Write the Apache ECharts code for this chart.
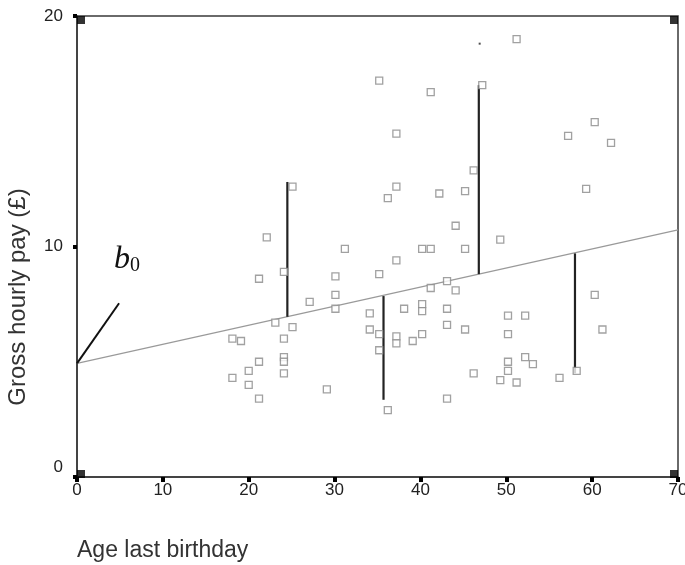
<!DOCTYPE html>
<html><head><meta charset="utf-8">
<script src="https://cdn.jsdelivr.net/npm/echarts@6/dist/echarts.min.js"></script>
<style>html,body{margin:0;padding:0;background:#fff}#c{width:685px;height:565px}</style>
</head><body><div id="c"></div>
<script>
// Observed points: age last birthday vs gross hourly pay
const ages = [51.2,35.2,41.2,47.2,37.2,57.2,60.3,62.2,25.1,37.2,36.2,42.2,45.2,46.2,59.3,44.1,22.1,31.2,40.2,41.2,45.2,49.3,24.1,21.2,30.1,37.2,35.2,43.1,41.2,44.1,60.3,50.2,52.2,27.1,30.1,30.1,23.1,25.1,34.1,38.1,40.2,40.2,43.1,43.1,45.2,61.2,50.2,18.1,19.1,24.1,34.1,35.2,37.2,40.2,39.1,37.2,35.2,24.1,24.1,21.2,52.2,53.1,50.2,20.0,24.1,18.1,20.0,21.2,29.1,46.2,50.2,49.3,51.2,56.2,58.2,43.1,36.2];
const pay  = [19.0,17.2,16.7,17.0,14.9,14.8,15.4,14.5,12.6,12.6,12.1,12.3,12.4,13.3,12.5,10.9,10.4,9.9,9.9,9.9,9.9,10.3,8.9,8.6,8.7,9.4,8.8,8.5,8.2,8.1,7.9,7.0,7.0,7.6,7.9,7.3,6.7,6.5,7.1,7.3,7.5,7.2,7.3,6.6,6.4,6.4,6.2,6.0,5.9,6.0,6.4,6.2,6.1,6.2,5.9,5.8,5.5,5.2,5.0,5.0,5.2,4.9,5.0,4.6,4.5,4.3,4.0,3.4,3.8,4.5,4.6,4.2,4.1,4.3,4.6,3.4,2.9];
// Fitted regression line end points
const regX = [0, 70];
const regY = [4.93, 10.72];
// Residual segments
const residX    = [24.5, 35.7, 46.8, 58.0];
const residFrom = [6.95, 7.85, 8.8, 9.7];
const residTo   = [12.8, 3.35, 17.0, 4.5];
// b0 pointer line
const ptrX = [0, 4.9];
const ptrY = [4.93, 7.54];
// stray dot
const dotX = [46.9];
const dotY = [18.8];
// axes
const xTicks = [0,10,20,30,40,50,60,70];
const yTicks = [0,10,20];

const chart = echarts.init(document.getElementById('c'), null, {renderer:'canvas'});
const tickFont = "'Liberation Sans Narrow','Liberation Sans',Arial,sans-serif";

chart.setOption({
  animation:false,
  backgroundColor:'#fff',
  grid:{left:77, right:7, top:16, bottom:88, outerBoundsMode:'none', containLabel:false,
    show:true, borderColor:'#3a3a3a', borderWidth:1.5, backgroundColor:'transparent'},
  xAxis:{type:'value', min:xTicks[0], max:xTicks[xTicks.length-1], interval:10,
    axisLine:{show:true, lineStyle:{color:'#444', width:2}},
    axisTick:{show:true, length:5, lineStyle:{color:'#000', width:4}},
    axisLabel:{margin:5, color:'#222', fontFamily:tickFont, fontSize:17},
    splitLine:{show:false}},
  yAxis:{type:'value', min:yTicks[0], max:yTicks[yTicks.length-1], interval:10,
    axisLine:{show:true, lineStyle:{color:'#444', width:2}},
    axisTick:{show:true, length:4, lineStyle:{color:'#000', width:4}},
    axisLabel:{margin:14, color:'#222', fontFamily:tickFont, fontSize:17,
      formatter:v=> v===0 ? '{z|0}' : String(v),
      rich:{z:{fontFamily:tickFont, fontSize:17, color:'#222', padding:[0,0,20,0]}}},
    splitLine:{show:false}},
  graphic:[
    {type:'text', left:77, top:539, style:{text:'Age last birthday', font:"23px 'Liberation Sans',Arial,sans-serif", fill:'#333'}},
    {type:'text', x:18, y:297, rotation:Math.PI/2, style:{text:'Gross hourly pay (£)', font:"24px 'Liberation Sans',Arial,sans-serif", fill:'#333', align:'center', verticalAlign:'middle'}},
    {type:'text', left:114, top:244, style:{
      text:'{b|b}{s|0}', fill:'#111',
      rich:{b:{fontFamily:"'Liberation Serif','DejaVu Serif',serif", fontStyle:'italic', fontSize:32, fill:'#111'},
            s:{fontFamily:"'Liberation Serif','DejaVu Serif',serif", fontSize:20, fill:'#111', padding:[12,0,0,0]}}}}
  ],
  series:[
    {type:'line', data:regX.map((x,i)=>[x,regY[i]]), symbol:'none', silent:true,
      lineStyle:{color:'#9a9a9a', width:1.2}, z:2},
    {type:'line', data:ptrX.map((x,i)=>[x,ptrY[i]]), symbol:'none', silent:true,
      lineStyle:{color:'#111', width:2}, z:3},
    {type:'custom', silent:true, z:4,
      data:residX.map((x,i)=>[x,residFrom[i],residTo[i]]),
      encode:{x:0, y:[1,2]},
      renderItem:(params, api)=>{
        const a = api.coord([api.value(0), api.value(1)]);
        const b = api.coord([api.value(0), api.value(2)]);
        return {type:'line', shape:{x1:a[0],y1:a[1],x2:b[0],y2:b[1]}, style:{stroke:'#222', lineWidth:2.2}};
      }},
    {type:'scatter', data:ages.map((x,i)=>[x,pay[i]]), symbol:'rect', symbolSize:7, silent:true, z:5,
      itemStyle:{color:'#fff', borderColor:'#8a8a8a', borderWidth:1.3}},
    {type:'scatter', data:dotX.map((x,i)=>[x,dotY[i]]), symbol:'rect', symbolSize:2, silent:true, z:5,
      itemStyle:{color:'#222'}},
    {type:'scatter', silent:true, z:6, symbol:'rect', symbolSize:8, itemStyle:{color:'#000'},
      data:[
        {value:[xTicks[0], yTicks[0]], symbolOffset:[4,-3]},
        {value:[xTicks[0], yTicks[2]], symbolOffset:[4,4]},
        {value:[xTicks[7], yTicks[0]], symbolOffset:[-4,-3]},
        {value:[xTicks[7], yTicks[2]], symbolOffset:[-4,4]}
      ]}
  ]
});
</script>
</body></html>
